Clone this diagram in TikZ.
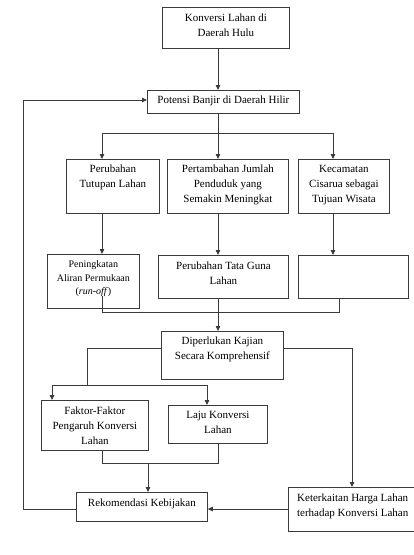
\documentclass[tikz,border=0pt]{standalone}
\usepackage{fontspec}
\setmainfont{Liberation Serif}
\usetikzlibrary{arrows.meta}
\definecolor{ln}{HTML}{3A3A3A}
\tikzset{
  boxst/.style={draw=ln, line width=0.8pt, inner sep=0pt, anchor=north west},
  txt/.style={anchor=north, inner sep=0pt, align=center, font=\fontsize{11}{15}\selectfont},
  txtsm/.style={anchor=north, inner sep=0pt, align=center, font=\fontsize{10}{13.5}\selectfont},
  ln/.style={draw=ln, line width=0.8pt},
  arr/.style={ln, -{Triangle[length=5pt,width=4.5pt]}},
}
\newcommand{\mybox}[6]{%
  \node[boxst, minimum width=#4pt-#2pt, minimum height=#5pt-#3pt] (#1) at (#2,#3) {};
}
\begin{document}
\begin{tikzpicture}[x=1pt,y=-1pt]
\useasboundingbox (0,0) rectangle (413,555);
% boxes
\mybox{b1}{162}{7}{289}{48}{}
\mybox{b2}{147}{90}{299}{113}{}
\mybox{A}{66}{159}{159}{213}{}
\mybox{B}{167}{159}{288}{213}{}
\mybox{C}{298}{159}{389}{213}{}
\mybox{D}{47}{254}{139}{308}{}
\mybox{E}{158}{255}{288}{298}{}
\mybox{F}{298}{255}{408}{298}{}
\mybox{G}{161}{331}{283}{379}{}
\mybox{H}{41}{400}{148}{450}{}
\mybox{I}{168}{405}{267}{443}{}
\mybox{K}{76}{492}{207}{521}{}
\mybox{J}{288}{487}{413.6}{531}{}
% texts
\node[txt] (b1t) at ([yshift=-6.5pt]b1.north) {Konversi Lahan di\\Daerah Hulu};
\node[txt] (b2t) at ([yshift=-6pt]b2.north) {Potensi Banjir di Daerah Hilir};
\node[txt] (At) at ([yshift=-6pt]A.north) {Perubahan\\Tutupan Lahan};
\node[txt] (Bt) at ([yshift=-6pt]B.north) {Pertambahan Jumlah\\Penduduk yang\\Semakin Meningkat};
\node[txt] (Ct) at ([yshift=-6pt]C.north) {Kecamatan\\Cisarua sebagai\\Tujuan Wisata};
\node[txtsm] (Dt) at ([yshift=-6.5pt]D.north) {Peningkatan\\Aliran Permukaan\\(\textit{run-off})};
\node[txt] (Et) at ([yshift=-6.5pt]E.north) {Perubahan Tata Guna\\Lahan};
\node[txt] (Gt) at ([yshift=-6pt]G.north) {Diperlukan Kajian\\Secara Komprehensif};
\node[txt] (Ht) at ([yshift=-6.5pt]H.north) {Faktor-Faktor\\Pengaruh Konversi\\Lahan};
\node[txt] (It) at ([yshift=-6.5pt]I.north) {Laju Konversi\\Lahan};
\node[txt] (Kt) at ([yshift=-6.5pt]K.north) {Rekomendasi Kebijakan};
\node[txt] (Jt) at ([yshift=-6.5pt,xshift=1.5pt]J.north) {Keterkaitan Harga Lahan\\terhadap Konversi Lahan};
% junction coordinates
\coordinate (c1) at (218,133);
\coordinate (cA) at (102,133);
\coordinate (cC) at (333,133);
\coordinate (d1) at (102,296);
\coordinate (m1) at (102,312);
\coordinate (m2) at (339,312);
\coordinate (g1) at (87,348);
\coordinate (g2) at (87,385);
\coordinate (hL) at (52,385);
\coordinate (hR) at (207,385);
\coordinate (gr) at (352,348);
\coordinate (k1) at (102,463);
\coordinate (k2) at (218,463);
\coordinate (k3) at (148,463);
\coordinate (fb) at (23,509);
\coordinate (ft) at (23,100);
% connectors
\draw[arr] (b1.south -| c1) -- (b2.north -| c1);
\draw[ln] (b2.south -| c1) -- (c1);
\draw[ln] (cA) -- (cC);
\draw[arr] (cA) -- (A.north -| cA);
\draw[arr] (c1) -- (B.north -| c1);
\draw[arr] (cC) -- (C.north -| cC);
\draw[arr] (A.south -| cA) -- (D.north -| cA);
\draw[arr] (B.south -| c1) -- (E.north -| c1);
\draw[arr] (C.south -| cC) -- (F.north -| cC);
\draw[ln] (d1) -- (m1) -- (m2) -- (F.south -| m2);
\draw[arr] (E.south -| c1) -- (G.north -| c1);
\draw[ln] (G.west |- g1) -- (g1) -- (g2);
\draw[ln] (hL) -- (hR);
\draw[arr] (hL) -- (H.north -| hL);
\draw[arr] (hR) -- (I.north -| hR);
\draw[arr] (G.east |- gr) -- (gr) -- (J.north -| gr);
\draw[ln] (H.south -| k1) -- (k1) -- (k2) -- (I.south -| k2);
\draw[arr] (k3) -- (K.north -| k3);
\draw[arr] (J.west |- fb) -- (K.east |- fb);
\draw[arr] (K.west |- fb) -- (fb) -- (ft) -- (b2.west |- ft);
\end{tikzpicture}
\end{document}
